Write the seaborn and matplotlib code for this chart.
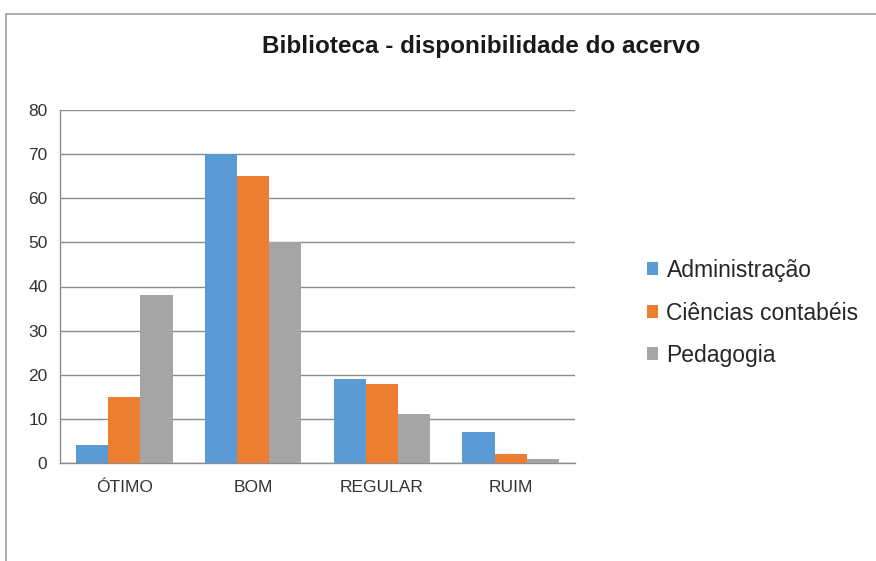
import pandas as pd
import matplotlib
matplotlib.use("Agg")
import matplotlib.pyplot as plt
import seaborn as sns
from matplotlib.patches import Rectangle

# Data
categories = ["ÓTIMO", "BOM", "REGULAR", "RUIM"]
administracao = [4, 70, 19, 7]
ciencias_contabeis = [15, 65, 18, 2]
pedagogia = [38, 50, 11, 1]
series_names = ["Administração", "Ciências contabéis", "Pedagogia"]
colors = ["#5B9BD5", "#ED7D31", "#A5A5A5"]

df = pd.DataFrame({
    "categoria": categories * 3,
    "valor": administracao + ciencias_contabeis + pedagogia,
    "curso": [series_names[0]] * 4 + [series_names[1]] * 4 + [series_names[2]] * 4,
})

sns.set_style("white")
plt.rcParams["font.family"] = ["Liberation Sans", "DejaVu Sans"]

fig = plt.figure(figsize=(8.76, 5.61), dpi=100)
ax = fig.add_axes([60 / 876, 1 - 463 / 561, 515 / 876, 353 / 561])

# outer chart frame (only top and left edges visible in the reference)
fig.patches.append(Rectangle((6 / 876, -0.1), 1.2, (561 - 14) / 561 + 0.1,
                             transform=fig.transFigure, fill=False,
                             edgecolor="#A0A0A0", linewidth=1.2, zorder=0))

sns.barplot(data=df, x="categoria", y="valor", hue="curso", palette=colors,
            width=0.75, gap=0, saturation=1, linewidth=0, ax=ax, zorder=3)

ax.set_ylim(0, 80)
ax.set_xlim(-0.5, 3.5)
ax.set_yticks(range(0, 81, 10))
ax.yaxis.grid(True, color="#8C8C8C", linewidth=1)
ax.set_axisbelow(True)
ax.set_xlabel("")
ax.set_ylabel("")

for side in ["top", "right"]:
    ax.spines[side].set_visible(False)
for side in ["left", "bottom"]:
    ax.spines[side].set_color("#8C8C8C")
    ax.spines[side].set_linewidth(1)

ax.set_xticks([-0.5, 0.5, 1.5, 2.5, 3.5], minor=True)
ax.tick_params(axis="x", which="major", length=0, labelsize=12.5, pad=12, colors="#333333")
ax.tick_params(axis="x", which="minor", length=5, color="#8C8C8C", direction="out")
ax.tick_params(axis="y", which="major", length=5, color="#8C8C8C", direction="out",
               labelsize=12.5, pad=4, colors="#333333")

fig.text(481 / 876, 1 - 46 / 561, "Biblioteca - disponibilidade do acervo",
         ha="center", va="center", fontsize=17.5, fontweight="bold", color="#1a1a1a")

handles, labels = ax.get_legend_handles_labels()
ax.legend(handles, labels, loc="center left", bbox_to_anchor=(647 / 876, 1 - 313 / 561),
          bbox_transform=fig.transFigure, frameon=False, fontsize=16.5,
          handlelength=0.5, handleheight=0.5, handletextpad=0.35, labelspacing=0.85,
          borderpad=0, borderaxespad=0)

fig.savefig("out.png", dpi=100)
